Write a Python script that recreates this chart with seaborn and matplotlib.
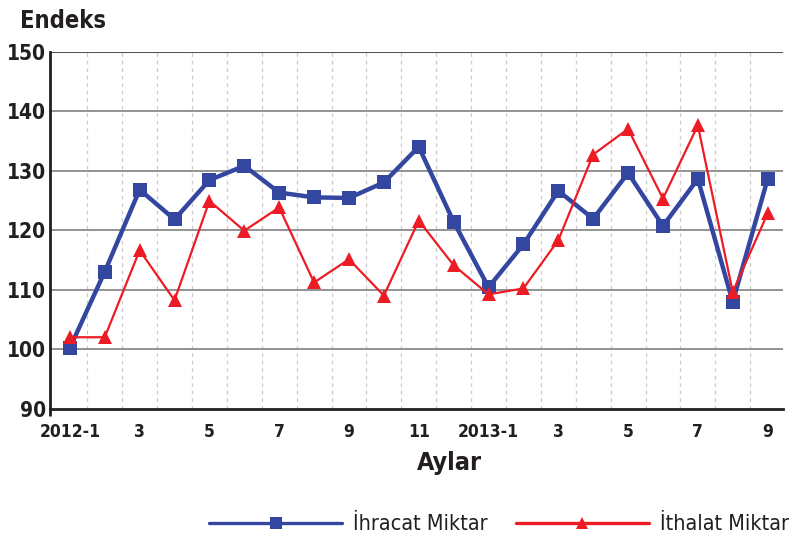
import numpy as np
import pandas as pd
import matplotlib
matplotlib.use("Agg")
import matplotlib.pyplot as plt
import seaborn as sns

# --- DADOS ---
aylar = ["2012-1", "2", "3", "4", "5", "6", "7", "8", "9", "10", "11", "12",
         "2013-1", "2", "3", "4", "5", "6", "7", "8", "9"]
ihracat = [100.2, 113.0, 126.8, 121.8, 128.4, 130.8, 126.3, 125.5, 125.4, 128.0, 134.0,
           121.4, 110.4, 117.6, 126.6, 121.9, 129.6, 120.7, 128.6, 107.9, 128.6]
ithalat = [102.0, 102.0, 116.6, 108.2, 124.9, 119.9, 123.8, 111.2, 115.1, 109.0, 121.6,
           114.1, 109.2, 110.2, 118.3, 132.7, 137.0, 125.3, 137.6, 109.6, 122.8]
tick_etiketleri = ["2012-1", "3", "5", "7", "9", "11", "2013-1", "3", "5", "7", "9"]

MAVI = "#3447A0"
KIRMIZI = "#ED1C24"
KOYU = "#231f20"

sns.set_theme(style="white")
plt.rcParams["font.family"] = ["DejaVu Sans"]
plt.rcParams["font.stretch"] = "condensed"

df = pd.DataFrame({"idx": np.arange(len(aylar)), "ihracat": ihracat, "ithalat": ithalat})

fig = plt.figure(figsize=(8.06, 5.37), dpi=100)
ax = fig.add_axes([0.062, 0.239, 0.909, 0.665])

# grid
for y in [100, 110, 120, 130, 140]:
    ax.axhline(y, color="#8a8a8a", lw=1.3, zorder=1)
ax.axhline(150, color="#555555", lw=1.5, zorder=1)
for x in np.arange(0.5, 21, 1.0):
    ax.axvline(x, color="#cccccc", lw=0.9, ls=(0, (3, 3)), zorder=0)

sns.lineplot(data=df, x="idx", y="ihracat", ax=ax, color=MAVI, lw=3.2,
             marker="s", markersize=10, markeredgewidth=0, zorder=3,
             label="İhracat Miktar")
sns.lineplot(data=df, x="idx", y="ithalat", ax=ax, color=KIRMIZI, lw=1.6,
             marker="^", markersize=10.5, markeredgewidth=0, zorder=4,
             label="İthalat Miktar")

xmin, xmax = -0.57, 20.43
ax.set_xlim(xmin, xmax)
ax.set_ylim(90, 150)
ax.set_yticks(range(90, 151, 10))
ax.set_xticks(range(0, 21, 2))
ax.set_xticklabels(tick_etiketleri)
for lab in ax.get_xticklabels() + ax.get_yticklabels():
    lab.set_fontweight("bold")
ax.tick_params(axis="x", length=0, pad=10, labelsize=12.5, colors=KOYU)
ax.tick_params(axis="y", length=0, pad=3, labelsize=15, colors=KOYU)
# köşedeki küçük çentik
ax.set_yticks([90], minor=True)
ax.set_xticks([xmin], minor=True)
ax.tick_params(axis="both", which="minor", direction="out", length=5, width=2,
               color=KOYU, bottom=True, left=True)

for s in ["top", "right"]:
    ax.spines[s].set_visible(False)
for s in ["left", "bottom"]:
    ax.spines[s].set_color(KOYU)
    ax.spines[s].set_linewidth(2)

ax.set_xlabel("Aylar", fontsize=18, fontweight="bold", color=KOYU)
ax.xaxis.set_label_coords(0.545, -0.118)
ax.set_ylabel("")
fig.text(0.025, 0.96, "Endeks", fontsize=17, fontweight="bold", color=KOYU,
         va="center", ha="left")

ax.get_legend().remove()
h, l = ax.get_legend_handles_labels()
leg = fig.legend(h, l, loc="center", bbox_to_anchor=(0.619, 0.024), ncol=2, frameon=False,
                 handlelength=6.2, numpoints=1, fontsize=15.5, columnspacing=1.3,
                 handletextpad=0.5)
for ln in leg.get_lines():
    ln.set_linewidth(2.4)
    ln.set_markersize(8)
for t in leg.get_texts():
    t.set_color(KOYU)

fig.savefig("out.png", dpi=100)
